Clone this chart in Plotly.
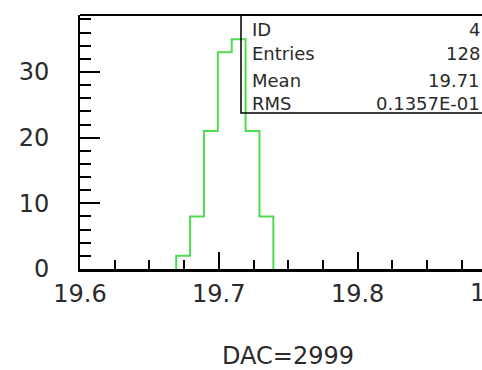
import plotly.graph_objects as go

# ---- data ----
bin_left_edges = [19.6693, 19.6793, 19.6893, 19.6993, 19.7093, 19.7193, 19.7293]
bin_width = 0.01
bin_counts = [2, 8, 21, 33, 35, 21, 8]

x_tick_vals = [19.6, 19.7, 19.8]
x_tick_text = ["19.6", "19.7", "19.8"]
x_clipped_tick = "19.9"
y_tick_vals = [0, 10, 20, 30]
y_tick_text = ["0", "10", "20", "30"]

stats_labels = ["ID", "Entries", "Mean", "RMS"]
stats_values = ["4", "128", "19.71", "0.1357E-01"]
title_text = "DAC=2999"

# ---- step outline ----
xs = [bin_left_edges[0]] + bin_left_edges + [bin_left_edges[-1] + bin_width]
ys = [0] + bin_counts + [0]

FONT = "DejaVu Sans"
TXT = "#2a2a2a"
W, H = 482, 370
L, T, B = 80, 15, 101
plot_w = W - L
plot_h = H - T - B

fig = go.Figure()
fig.add_trace(go.Scatter(
    x=xs, y=ys, mode="lines", line=dict(color="#4fdb4f", width=2, shape="hv"),
    showlegend=False, hoverinfo="skip"))

x_px_per_unit = 1388.0
x_max = 19.6 + plot_w / x_px_per_unit

fig.update_layout(
    width=W, height=H,
    margin=dict(l=L, r=0, t=T, b=B, pad=0),
    paper_bgcolor="white", plot_bgcolor="white",
    font=dict(family=FONT, color=TXT, size=24),
    showlegend=False,
    xaxis=dict(
        range=[19.6, x_max], showgrid=False, zeroline=False,
        showline=True, linecolor="black", linewidth=3,
        ticks="inside", ticklen=17, tickwidth=1.5, tickcolor="black",
        tickvals=x_tick_vals, ticktext=x_tick_text,
        tickfont=dict(family=FONT, size=24, color=TXT),
        ticklabelstandoff=1,
        minor=dict(dtick=0.025, tick0=19.6, ticks="inside", ticklen=9,
                   tickwidth=1.5, tickcolor="black", showgrid=False),
    ),
    yaxis=dict(
        range=[0, 38.68], showgrid=False, zeroline=False,
        showline=True, linecolor="black", linewidth=2,
        ticks="inside", ticklen=20, tickwidth=1.5, tickcolor="black",
        tickvals=y_tick_vals, ticktext=y_tick_text,
        tickfont=dict(family=FONT, size=24, color=TXT),
        ticklabelstandoff=24,
        minor=dict(dtick=2, tick0=0, ticks="inside", ticklen=11,
                   tickwidth=1.5, tickcolor="black", showgrid=False),
    ),
)

def px_x(px):
    return (px - L) / plot_w

def px_y(py):
    return (H - B - py) / plot_h

# top frame line
fig.add_shape(type="line", xref="paper", yref="paper",
              x0=0, x1=1.2, y0=1, y1=1, line=dict(color="black", width=2))
# stats box
fig.add_shape(type="rect", xref="paper", yref="paper",
              x0=px_x(241), x1=1.3, y0=px_y(113), y1=1,
              line=dict(color="black", width=1.5), fillcolor="rgba(0,0,0,0)")

row_y = [29, 53.5, 80, 103.5]
for lab, val, ry in zip(stats_labels, stats_values, row_y):
    fig.add_annotation(text=lab, xref="paper", yref="paper", x=px_x(250), y=px_y(ry),
                       xanchor="left", yanchor="middle", showarrow=False,
                       font=dict(family=FONT, size=18, color=TXT))
    fig.add_annotation(text=val, xref="paper", yref="paper", x=px_x(482), y=px_y(ry),
                       xanchor="right", yanchor="middle", showarrow=False,
                       font=dict(family=FONT, size=18, color=TXT))

# clipped tick label at right edge (cut by the window, as in the reference)
fig.add_annotation(text=x_clipped_tick, xref="paper", yref="paper",
                   x=px_x(L + (19.9 - 19.6) * x_px_per_unit), y=px_y(293),
                   xanchor="center", yanchor="middle", showarrow=False,
                   font=dict(family=FONT, size=24, color=TXT))

# title below
fig.add_annotation(text=title_text, xref="paper", yref="paper",
                   x=px_x(287.5), y=px_y(356), xanchor="center", yanchor="middle",
                   showarrow=False, font=dict(family=FONT, size=24, color=TXT))

fig.write_html("out.html")
